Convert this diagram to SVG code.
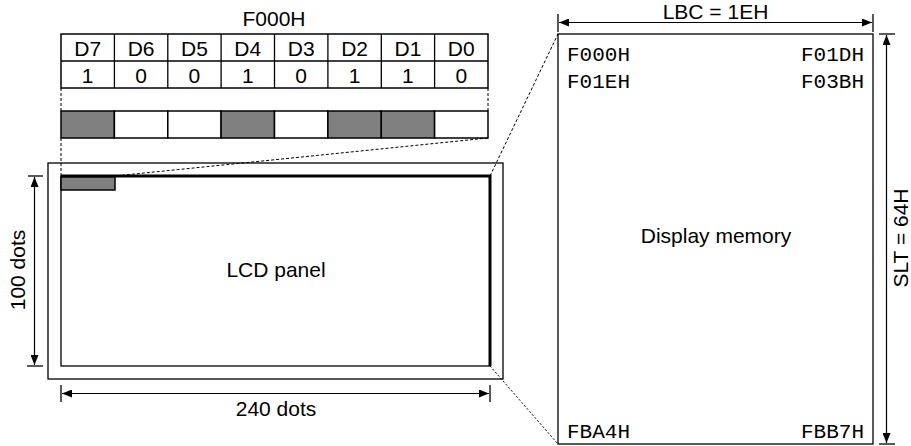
<svg xmlns="http://www.w3.org/2000/svg" width="911" height="446" viewBox="0 0 911 446">
<style>
.t{font-family:"Liberation Sans",Arial,sans-serif;font-size:21px;fill:#000}
.c{text-anchor:middle}
.m{font-family:"Liberation Mono","Courier New",monospace;font-size:21px;fill:#000}
.ln{stroke:#000;stroke-width:1.3;fill:none}
.bx{stroke:#000;stroke-width:1.5;fill:#fff}
.sh{stroke:#000;stroke-width:1.5;fill:#808080}
.dash{stroke:#000;stroke-width:1;stroke-dasharray:3,2;fill:none}
.dot{stroke:#000;stroke-width:1;stroke-dasharray:2,2;fill:none}
.dim{stroke:#000;stroke-width:1.2;fill:none;marker-start:url(#ah);marker-end:url(#ah)}
</style>
<defs>
<marker id="ah" viewBox="0 0 10 8" refX="10" refY="4" markerWidth="10" markerHeight="8" markerUnits="userSpaceOnUse" orient="auto-start-reverse">
<path d="M0,0 L10,4 L0,8 Z" fill="#000"/>
</marker>
</defs>
<rect width="911" height="446" fill="#fff"/>

<g id="bit-table">
<text class="t c" x="274" y="26">F000H</text>
<rect class="bx" x="61" y="34" width="427" height="54"/>
<line class="ln" x1="61" y1="61" x2="488" y2="61"/>
<g class="ln">
<line x1="114.4" y1="34" x2="114.4" y2="88"/>
<line x1="167.8" y1="34" x2="167.8" y2="88"/>
<line x1="221.1" y1="34" x2="221.1" y2="88"/>
<line x1="274.5" y1="34" x2="274.5" y2="88"/>
<line x1="327.9" y1="34" x2="327.9" y2="88"/>
<line x1="381.3" y1="34" x2="381.3" y2="88"/>
<line x1="434.6" y1="34" x2="434.6" y2="88"/>
</g>
<g class="t c">
<text x="87.7" y="56">D7</text><text x="141.1" y="56">D6</text><text x="194.4" y="56">D5</text><text x="247.8" y="56">D4</text>
<text x="301.2" y="56">D3</text><text x="354.6" y="56">D2</text><text x="407.9" y="56">D1</text><text x="461.3" y="56">D0</text>
<text x="87.7" y="83">1</text><text x="141.1" y="83">0</text><text x="194.4" y="83">0</text><text x="247.8" y="83">1</text>
<text x="301.2" y="83">0</text><text x="354.6" y="83">1</text><text x="407.9" y="83">1</text><text x="461.3" y="83">0</text>
</g>
</g>

<g id="pixel-row">
<rect class="sh" x="61" y="111" width="53.4" height="27"/>
<rect class="bx" x="114.4" y="111" width="53.4" height="27"/>
<rect class="bx" x="167.8" y="111" width="53.3" height="27"/>
<rect class="sh" x="221.1" y="111" width="53.4" height="27"/>
<rect class="bx" x="274.5" y="111" width="53.4" height="27"/>
<rect class="sh" x="327.9" y="111" width="53.4" height="27"/>
<rect class="sh" x="381.3" y="111" width="53.3" height="27"/>
<rect class="bx" x="434.6" y="111" width="53.4" height="27"/>
</g>

<g id="lcd-panel">
<rect class="ln" x="48" y="163" width="455" height="216"/>
<rect class="ln" x="61" y="176" width="429" height="190"/>
<polyline points="61,176 490,176 490,366" fill="none" stroke="#000" stroke-width="3"/>
<rect class="sh" x="61" y="177" width="54" height="13"/>
<text class="t c" x="276" y="277">LCD panel</text>
</g>

<g id="display-memory">
<rect class="ln" x="558" y="34" width="315" height="410" stroke-width="1.5"/>
<text class="t c" x="716" y="243">Display memory</text>
<text class="m" x="567" y="61">F000H</text>
<text class="m" x="567" y="88">F01EH</text>
<text class="m" x="864" y="61" text-anchor="end">F01DH</text>
<text class="m" x="864" y="88" text-anchor="end">F03BH</text>
<text class="m" x="567" y="438">FBA4H</text>
<text class="m" x="864" y="438" text-anchor="end">FBB7H</text>
</g>

<g id="connectors">
<line class="dash" x1="61" y1="88" x2="61" y2="111"/>
<line class="dash" x1="488" y1="88" x2="488" y2="111"/>
<line class="dash" x1="61" y1="138" x2="61" y2="176"/>
<line class="dash" x1="488" y1="138" x2="115" y2="176"/>
<line class="dash" x1="490" y1="176" x2="558" y2="34"/>
<line class="dot" x1="490" y1="366" x2="558" y2="444"/>
</g>

<g id="dimensions">
<line class="ln" x1="28" y1="176" x2="43" y2="176"/>
<line class="ln" x1="27" y1="366" x2="43" y2="366"/>
<line class="dim" x1="34.5" y1="177" x2="34.5" y2="365"/>
<text class="t c" transform="translate(25,270) rotate(-90)">100 dots</text>

<line class="ln" x1="61" y1="385" x2="61" y2="402"/>
<line class="ln" x1="490" y1="385" x2="490" y2="402"/>
<line class="dim" x1="62" y1="393.5" x2="489" y2="393.5"/>
<text class="t c" x="276" y="416">240 dots</text>

<line class="ln" x1="558" y1="14" x2="558" y2="32"/>
<line class="ln" x1="873" y1="14" x2="873" y2="32"/>
<line class="dim" x1="559" y1="22.5" x2="872" y2="22.5"/>
<text class="t c" x="715.5" y="19">LBC = 1EH</text>

<line class="ln" x1="879" y1="34" x2="895" y2="34"/>
<line class="ln" x1="879" y1="444" x2="895" y2="444"/>
<line class="dim" x1="886.5" y1="35" x2="886.5" y2="443"/>
<text class="t c" transform="translate(908,238) rotate(-90)">SLT = 64H</text>
</g>
</svg>
